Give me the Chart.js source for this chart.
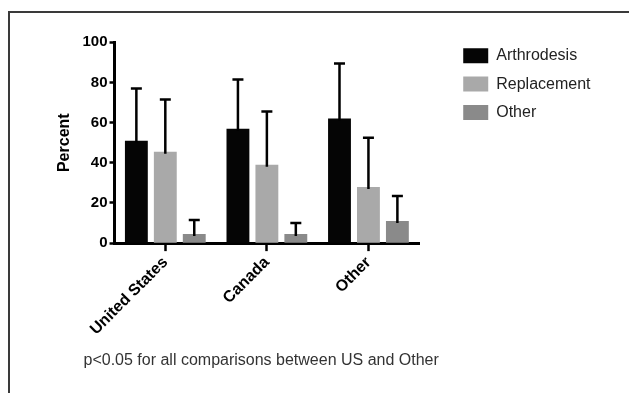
<!DOCTYPE html>
<html>
<head>
<meta charset="utf-8">
<script src="https://cdn.jsdelivr.net/npm/chart.js@4.4.1/dist/chart.umd.min.js"></script>
<style>
  html, body { margin: 0; padding: 0; background: #fff; }
  #wrap { position: relative; width: 629px; height: 393px; overflow: hidden; }
  #frame { position: absolute; left: 8px; top: 11px; right: -4px; bottom: -4px;
           border-left: 2px solid #3a3a3a; border-top: 2px solid #3a3a3a; pointer-events: none; }
  canvas { position: absolute; left: 0; top: 0; }
</style>
</head>
<body>
<div id="wrap">
  <canvas id="chart" width="629" height="393"></canvas>
  <div id="frame"></div>
</div>
<script>
// Regions compared
const categories = ['United States', 'Canada', 'Other'];

// Mean percentages per procedure
const arthrodesis = [51, 57, 62];
const replacement = [45.5, 39, 28];
const otherProc   = [4.5, 4.5, 11];

// Upper error (standard deviation) per procedure
const arthrodesisErr = [26, 24.5, 27.5];
const replacementErr = [26, 26.5, 24.5];
const otherProcErr   = [7, 5.5, 12.5];

const yTicks = [0, 20, 40, 60, 80, 100];
const footnote = 'p<0.05 for all comparisons between US and Other';

const FONT = "'Liberation Sans', Arial, Helvetica, sans-serif";

// Upward error bars with caps, drawn from each bar's top
const errorBars = {
  id: 'errorBars',
  afterDatasetsDraw(chart) {
    const ctx = chart.ctx;
    const yScale = chart.scales.y;
    ctx.save();
    ctx.strokeStyle = '#000';
    ctx.lineWidth = 2.5;
    ctx.lineCap = 'butt';
    chart.data.datasets.forEach((ds, di) => {
      const meta = chart.getDatasetMeta(di);
      meta.data.forEach((bar, i) => {
        const top = yScale.getPixelForValue(ds.data[i] + ds.errors[i]);
        const x = bar.x;
        ctx.beginPath();
        ctx.moveTo(x, bar.y + 2);
        ctx.lineTo(x, top);
        ctx.moveTo(x - 5.5, top);
        ctx.lineTo(x + 5.5, top);
        ctx.stroke();
      });
    });
    ctx.restore();
  }
};

// Let the side legend take the width its labels need
const wideLegend = {
  id: 'wideLegend',
  beforeLayout(chart) {
    const legend = chart.legend;
    if (legend && !legend._wideFit) {
      const fit = legend.fit;
      legend.fit = function () { this.maxWidth = 400; return fit.call(this); };
      legend._wideFit = true;
    }
  }
};

// Footnote under the plot
const footnoteText = {
  id: 'footnoteText',
  afterDraw(chart) {
    const ctx = chart.ctx;
    ctx.save();
    ctx.font = '16px ' + FONT;
    ctx.fillStyle = '#333';
    ctx.textBaseline = 'alphabetic';
    ctx.textAlign = 'left';
    ctx.fillText(footnote, 83.5, 365);
    ctx.restore();
  }
};

new Chart(document.getElementById('chart'), {
  type: 'bar',
  data: {
    labels: categories,
    datasets: [
      { label: 'Arthrodesis', data: arthrodesis, errors: arthrodesisErr, backgroundColor: '#050505' },
      { label: 'Replacement', data: replacement, errors: replacementErr, backgroundColor: '#a9a9a9' },
      { label: 'Other', data: otherProc, errors: otherProcErr, backgroundColor: '#8a8a8a' }
    ]
  },
  options: {
    responsive: false,
    animation: false,
    devicePixelRatio: 1,
    categoryPercentage: 0.855,
    barPercentage: 0.79,
    borderWidth: 0,
    layout: { padding: { left: 55.4, right: 28.5, top: 35.5, bottom: 52 } },
    plugins: {
      tooltip: { enabled: false },
      title: { display: false },
      legend: {
        position: 'right',
        align: 'start',
        labels: {
          boxWidth: 25,
          boxHeight: 15,
          padding: 12.3,
          color: '#222',
          font: { family: FONT, size: 16 }
        }
      }
    },
    scales: {
      x: {
        grid: {
          display: true,
          drawOnChartArea: false,
          drawTicks: true,
          tickLength: 8,
          tickWidth: 2.5,
          offset: false,
          color: '#000'
        },
        border: { display: true, color: '#000', width: 3 },
        ticks: {
          color: '#000',
          minRotation: 45,
          maxRotation: 45,
          padding: 2,
          font: { family: FONT, size: 16, weight: 'bold' }
        }
      },
      y: {
        min: 0,
        max: 100,
        afterBuildTicks(scale) { scale.ticks = yTicks.map(v => ({ value: v })); },
        grid: {
          display: true,
          drawOnChartArea: false,
          drawTicks: true,
          tickLength: 5,
          tickWidth: 2.5,
          color: '#000'
        },
        border: { display: true, color: '#000', width: 3 },
        ticks: {
          color: '#000',
          padding: 2,
          font: { family: FONT, size: 15, weight: 'bold', lineHeight: 1 }
        },
        title: {
          display: true,
          text: 'Percent',
          color: '#000',
          padding: { top: 0, bottom: 5.9 },
          font: { family: FONT, size: 16, weight: 'bold' }
        }
      },
      // spacer between the plot and the legend
      gap: {
        type: 'linear',
        position: 'right',
        display: true,
        grid: { display: false },
        border: { display: false },
        ticks: { display: false },
        afterFit(scale) { scale.width = 31.7; }
      },
      // spacer above the plot
      headroom: {
        type: 'linear',
        axis: 'x',
        position: 'top',
        display: true,
        grid: { display: false },
        border: { display: false },
        ticks: { display: false },
        afterFit(scale) { scale.height = 6.8; }
      }
    }
  },
  plugins: [wideLegend, errorBars, footnoteText]
});
</script>
</body>
</html>
